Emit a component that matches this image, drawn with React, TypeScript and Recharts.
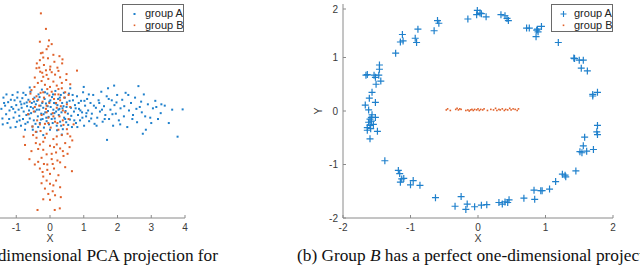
import React from 'react';
import { ScatterChart, Scatter, XAxis, YAxis } from 'recharts';

// left panel: 2-D projection, group A spread along X, group B along Y
const leftGroupA: [number, number][] = [
  [-3.4, 0.2], [-3.1, -0.15], [-2.85, 0.4], [-2.7, -0.35], [-2.5, 0.05], [-2.35, 0.55], [-2.2, -0.25],
  [-2.05, 0.3], [-1.95, -0.5], [-1.85, 0.1], [-1.75, 0.45], [-1.68, -0.2], [-1.6, 0.25], [-1.52, -0.4],
  [-1.44, 0.08], [-1.41, -0.28], [-1.38, 0.5], [-1.33, 0.2], [-1.3, -0.12], [-1.26, -0.45], [-1.24, 0.33],
  [-1.2, 0.02], [-1.17, -0.62], [-1.14, 0.15], [-1.11, 0.6], [-1.08, -0.25], [-1.05, 0.4], [-1.03, -0.05],
  [-1.0, 0.22], [-0.98, -0.4], [-0.96, 0.7], [-0.93, 0.05], [-0.91, -0.18], [-0.88, 0.35], [-0.86, -0.55],
  [-0.84, 0.12], [-0.82, 0.48], [-0.8, -0.3], [-0.78, -0.02], [-0.76, 0.28], [-0.74, -0.7], [-0.72, 0.6],
  [-0.7, -0.15], [-0.68, 0.18], [-0.66, -0.42], [-0.64, 0.42], [-0.62, 0.02], [-0.6, -0.28], [-0.58, 0.72],
  [-0.56, -0.08], [-0.54, 0.3], [-0.52, -0.58], [-0.5, 0.1], [-0.48, -0.35], [-0.46, 0.5], [-0.44, -0.02],
  [-0.42, 0.25], [-0.4, -0.78], [-0.38, 0.38], [-0.36, -0.2], [-0.34, 0.62], [-0.32, 0.05], [-0.3, -0.45],
  [-0.28, 0.2], [-0.26, -0.1], [-0.24, 0.8], [-0.22, -0.3], [-0.2, 0.12], [-0.18, -0.62], [-0.16, 0.45],
  [-0.14, -0.05], [-0.12, 0.28], [-0.1, -0.38], [-0.08, 0.65], [-0.06, 0.0], [-0.04, -0.22], [-0.02, 0.35],
  [0.0, -0.7], [0.02, 0.15], [0.04, -0.12], [0.06, 0.52], [0.08, -0.45], [0.1, 0.05], [0.12, 0.3],
  [0.14, -0.28], [0.16, 0.75], [0.18, -0.02], [0.2, -0.55], [0.22, 0.22], [0.24, 0.45], [0.26, -0.15],
  [0.28, 0.08], [0.3, -0.4], [0.32, 0.6], [0.34, -0.05], [0.36, 0.3], [0.38, -0.68], [0.4, 0.18],
  [0.42, -0.25], [0.44, 0.5], [0.46, 0.0], [0.48, -0.42], [0.5, 0.32], [0.53, -0.1], [0.56, 0.65],
  [0.59, -0.32], [0.62, 0.12], [0.65, -0.6], [0.68, 0.4], [0.71, -0.02], [0.74, 0.22], [0.77, -0.45],
  [0.8, 0.55], [0.83, -0.15], [0.86, 0.08], [0.89, -0.35], [0.92, 0.38], [0.95, -0.05], [0.98, 0.7],
  [1.01, -0.55], [1.04, 0.2], [1.07, -0.2], [1.1, 0.45], [1.13, 0.02], [1.16, -0.38], [1.2, 0.3],
  [1.24, -0.1], [1.28, 0.6], [1.32, -0.48], [1.36, 0.12], [1.4, -0.25], [1.44, 0.4], [1.48, -0.02],
  [1.52, 0.72], [1.56, -0.4], [1.6, 0.18], [1.64, -0.15], [1.68, 0.55], [1.69, -1.08], [1.72, 0.85],
  [1.75, -0.3], [1.79, 0.05], [1.83, 0.4], [1.87, -0.55], [1.91, 0.22], [1.95, -0.1], [1.99, 0.6],
  [2.04, -0.35], [2.09, 0.1], [2.14, 0.42], [2.19, -0.2], [2.24, 0.68], [2.29, -0.6], [2.34, 0.02],
  [2.4, 0.3], [2.46, -0.15], [2.52, 0.5], [2.58, -0.42], [2.62, 0.93], [2.66, 0.15], [2.72, -0.05],
  [2.78, 0.62], [2.84, -0.7], [2.9, 0.25], [2.97, -0.25], [3.05, 0.1], [3.12, 0.38], [3.2, -0.3],
  [3.28, -0.08], [3.4, 0.2], [3.52, -0.45], [3.62, 0.05], [3.78, -0.96], [3.93, 0.06],
  [-1.4, -0.5], [-1.36, 0.3], [-1.29, 0.62], [-1.21, -0.3], [-1.16, 0.42], [-1.09, 0.08], [-1.02, -0.6],
  [-0.97, 0.5], [-0.9, -0.35], [-0.85, 0.25], [-0.79, 0.68], [-0.73, -0.48], [-0.69, 0.32], [-0.63, -0.12],
  [-0.57, 0.15], [-0.51, -0.7], [-0.47, 0.35], [-0.43, -0.48], [-0.39, 0.05], [-0.35, -0.6], [-0.31, 0.52],
  [-0.27, -0.32], [-0.23, 0.3], [-0.19, -0.12], [-0.15, 0.7], [-0.11, -0.25], [-0.07, 0.18], [-0.03, -0.5],
  [0.01, 0.4], [0.05, -0.3], [0.09, 0.62], [0.13, -0.08], [0.17, 0.28], [0.21, -0.72], [0.25, 0.05],
  [0.29, 0.5], [0.33, -0.55], [0.37, 0.1], [0.41, 0.68], [0.45, -0.3], [0.49, 0.15], [0.54, -0.52],
  [0.58, 0.38], [0.63, -0.18], [0.67, 0.6], [0.72, -0.35], [0.76, 0.1], [0.81, -0.6], [0.85, 0.3],
  [0.9, 0.02], [0.96, -0.25], [1.02, 0.38], [1.08, -0.08], [1.15, 0.62], [1.22, -0.28], [1.3, 0.2],
  [1.38, -0.55], [1.46, 0.3], [1.54, 0.05], [1.62, -0.3], [1.74, 0.45], [1.85, -0.12], [1.97, 0.32],
  [2.08, -0.5], [2.2, 0.18], [2.32, 0.6], [2.44, -0.3], [2.56, 0.08], [2.7, 0.35], [2.82, -0.2],
  [3.0, -0.45], [3.15, 0.15], [3.3, 0.25], [1.0, 0.9], [0.35, -0.88], [-0.6, 0.88], [2.75, -0.85],
  [1.9, 0.95], [-0.2, -0.9], [0.6, 0.85],
];

const leftGroupB: [number, number][] = [
  [-0.27, 3.65], [-0.12, 3.07], [-0.03, 2.64], [-0.3, 2.59], [0.05, 2.5], [-0.27, 2.16], [-0.22, 2.18],
  [-0.1, 2.31], [0.37, 1.93], [0.36, 1.78], [-0.3, 1.9], [-0.39, 1.78], [-0.06, 1.97], [0.13, 1.84],
  [0.01, 1.66], [0.8, 1.51], [-0.29, 1.47], [-0.23, 1.43], [-0.12, 1.52], [0.05, 1.45], [0.15, 1.36],
  [0.49, 1.38], [0.3, 1.26], [0.48, 1.16], [-0.2, 1.28], [-0.05, 1.2], [0.1, 1.1], [-0.36, 1.05],
  [-0.15, 0.98], [0.2, 0.95], [-0.46, 0.9], [0.35, 0.85], [-0.55, 0.78], [-0.08, 0.82], [0.05, 0.72],
  [-0.28, 0.68], [0.25, 0.62], [0.45, 0.7], [-0.4, 0.55], [-0.18, 0.5], [0.12, 0.45], [0.3, 0.4],
  [-0.6, 0.35], [-0.02, 0.3], [0.5, 0.25], [-0.32, 0.2], [0.2, 0.12], [-0.12, 0.08], [0.38, 0.02],
  [-0.48, -0.02], [0.08, -0.08], [-0.25, -0.15], [0.28, -0.2], [-0.05, -0.25], [0.55, -0.3], [-0.38, -0.35],
  [0.15, -0.4], [-0.15, -0.48], [0.4, -0.52], [-0.52, -0.58], [0.02, -0.62], [0.25, -0.7], [-0.28, -0.75],
  [-0.78, -0.96], [-0.1, -0.85], [0.35, -0.9], [0.6, -0.95], [-0.4, -1.0], [0.1, -1.05], [-0.74, -1.27],
  [-0.2, -1.15], [0.45, -1.2], [0.0, -1.3], [-0.35, -1.42], [0.3, -1.4], [0.58, -1.35], [0.66, -1.1],
  [-0.55, -1.5], [0.18, -1.55], [-0.1, -1.62], [-0.61, -1.8], [0.4, -1.68], [-0.25, -1.75], [0.05, -1.8],
  [-0.18, -1.98], [-0.08, -2.0], [0.08, -1.98], [0.22, -1.85], [0.3, -1.92], [-0.3, -2.15], [-0.22, -2.28],
  [0.65, -2.25], [0.0, -2.35], [-0.1, -2.6], [0.0, -2.72], [0.1, -2.78], [-0.15, -2.9], [0.3, -2.85],
  [-0.05, -3.1], [0.15, -3.15], [0.32, -3.22], [-0.2, -3.3], [0.0, -3.32], [-0.37, -3.7], [0.14, -3.7],
  [0.29, -3.64], [-0.4, 1.6], [0.22, 1.62], [-0.18, 1.72], [0.28, 2.05], [-0.45, 1.25], [0.6, 1.0],
  [-0.02, 0.58], [0.18, 0.3], [-0.22, 0.35], [0.42, 0.5], [-0.1, -0.05], [0.22, -0.45], [-0.42, -0.78],
  [0.5, -0.68], [-0.3, -1.25], [0.12, -1.35], [0.52, -1.6], [-0.45, -2.0], [0.45, -2.1], [-0.2, -2.45],
  [-0.5, 0.45], [0.6, 0.15], [-0.65, -0.12], [0.7, -0.5], [-0.58, 0.65], [0.55, 0.6], [-0.35, 0.42],
  [0.32, 0.18], [-0.1, 0.2], [0.1, -0.2], [-0.3, -0.5], [0.45, -0.05], [-0.2, 0.7], [0.0, 0.9],
  [0.25, 0.82], [-0.45, 0.15], [0.15, 0.62], [-0.05, -0.45], [0.38, -0.35], [-0.5, -0.9], [0.2, -0.95],
  [-0.15, -1.0], [0.52, -0.85], [-0.25, 1.12], [0.35, 1.05], [-0.1, 1.35], [0.0, 1.55], [-0.32, 1.62],
  [0.25, 1.5], [-0.2, 2.0], [0.1, 2.1], [-0.05, 2.42], [0.2, -1.25], [-0.42, -1.2], [0.38, -1.5],
  [-0.2, -1.45], [0.05, -1.6], [-0.35, -1.9], [0.12, -2.15], [-0.08, -2.2], [0.25, -2.4], [0.18, -2.6],
  [-0.25, -2.7], [0.08, -3.0],
];

// right panel: group A on a ring, group B on a short line
const rightGroupA: [number, number][] = [
  [-0.01, 1.88], [0.03, 1.83], [-0.02, 1.8], [0.05, 1.82], [0.12, 1.76], [-0.15, 1.72], [0.34, 1.8],
  [0.4, 1.78], [0.43, 1.73], [0.45, 1.69], [-0.6, 1.69], [-0.58, 1.64], [-0.65, 1.5], [-0.89, 1.53],
  [-1.12, 1.43], [-1.15, 1.29], [-1.11, 1.31], [-0.93, 1.36], [-0.91, 1.28], [-1.22, 1.08], [0.72, 1.55],
  [0.76, 1.55], [0.87, 1.51], [0.89, 1.48], [0.94, 1.58], [0.88, 1.53], [0.86, 1.39], [1.19, 1.28],
  [1.42, 0.99], [1.43, 0.98], [1.5, 0.95], [1.56, 0.95], [1.53, 0.8], [1.62, 0.75], [1.7, 0.28],
  [1.7, 0.31], [1.77, 0.35], [1.77, -0.27], [1.76, -0.39], [1.77, -0.44], [1.58, -0.49], [1.56, -0.65],
  [1.51, -0.76], [1.54, -0.78], [1.61, -0.75], [1.71, -0.72], [1.45, -1.12], [1.25, -1.18], [1.29, -1.2],
  [1.3, -1.23], [1.15, -1.32], [1.06, -1.46], [0.95, -1.49], [0.93, -1.49], [0.83, -1.48], [0.84, -1.65],
  [0.68, -1.63], [0.4, -1.7], [0.46, -1.66], [0.44, -1.71], [0.31, -1.71], [0.36, -1.74], [0.13, -1.75],
  [0.05, -1.76], [-0.05, -1.79], [-0.16, -1.74], [-0.18, -1.84], [-0.25, -1.6], [-0.34, -1.78],
  [-0.63, -1.62], [-0.86, -1.39], [-1.0, -1.38], [-0.96, -1.3], [-1.18, -1.11], [-1.16, -1.17],
  [-1.15, -1.33], [-1.13, -1.27], [-1.1, -1.26], [-1.38, -0.93], [-1.49, -0.38], [-1.64, 0.68],
  [-1.66, 0.67], [-1.54, 0.67], [-1.52, 0.63], [-1.46, 0.86], [-1.46, 0.78], [-1.47, 0.67], [-1.44, 0.56],
  [-1.51, 0.5], [-1.57, 0.35], [-1.61, 0.24], [-1.52, 0.16], [-1.67, 0.11], [-1.62, 0.02], [-1.57, -0.07],
  [-1.58, -0.12], [-1.6, -0.15], [-1.58, -0.19], [-1.52, -0.12], [-1.62, -0.21], [-1.6, -0.27],
  [-1.55, -0.25], [-1.64, -0.31], [-1.64, -0.36], [-1.59, -0.33], [-1.6, -0.52],
];

const rightGroupB: [number, number][] = [
  [-0.47, 0.02], [-0.45, 0.04], [-0.41, 0.01], [-0.33, 0.03], [-0.31, 0.05], [-0.29, 0.02], [-0.27, 0.04],
  [-0.25, 0.03], [-0.18, 0.01], [-0.15, 0.02], [-0.13, 0.0], [-0.11, 0.02], [-0.09, 0.03], [-0.07, 0.01],
  [-0.05, 0.03], [-0.02, 0.02], [0.0, 0.04], [0.02, 0.01], [0.04, 0.03], [0.07, 0.02], [0.09, 0.04],
  [0.14, 0.01], [0.19, 0.03], [0.23, 0.02], [0.26, 0.05], [0.28, 0.01], [0.31, 0.03], [0.33, 0.02],
  [0.36, 0.04], [0.39, 0.01], [0.41, 0.03], [0.44, 0.02], [0.47, 0.05], [0.49, 0.02], [0.52, 0.04],
  [0.55, 0.03], [0.58, 0.01], [0.6, 0.04],
];

const leftTicks = [-1, 0, 1, 2, 3, 4];
const rightTicks = [-2, -1, 0, 1, 2];

const BLUE = '#1f80cc';
const ORANGE = '#e0612a';
const AXIS = '#8a8a8a';
const TICK_TEXT = '#3a3a3a';
const SANS = '"Liberation Sans", Arial, sans-serif';

const toPoints = (arr: [number, number][]) => arr.map(([x, y]) => ({ x, y }));

const XTick = (props: any) => {
  const { x, y, payload } = props;
  return (
    <g>
      <line x1={x} y1={y} x2={x} y2={y - 3} stroke={AXIS} />
      <text x={x} y={y + 13} textAnchor="middle" fontSize={10} fontFamily={SANS} fill={TICK_TEXT}>
        {payload.value}
      </text>
    </g>
  );
};

const YTick = (props: any) => {
  const { x, y, payload } = props;
  return (
    <g>
      <line x1={x} y1={y} x2={x + 3} y2={y} stroke={AXIS} />
      <text x={x - 5} y={y + 3.5} textAnchor="end" fontSize={10} fontFamily={SANS} fill={TICK_TEXT}>
        {payload.value}
      </text>
    </g>
  );
};

const PlusMark = (props: any) => {
  const { cx, cy } = props;
  return <path d={`M${cx - 3.5},${cy}h7M${cx},${cy - 3.5}v7`} stroke={BLUE} strokeWidth={1.2} fill="none" />;
};

const dotMark = (color: string, size: number) => (props: any) => {
  const { cx, cy } = props;
  return <rect x={cx - size / 2} y={cy - size / 2} width={size} height={size} fill={color} />;
};

function LegendBox({ left, plus }: { left: number; plus: boolean }) {
  return (
    <div
      style={{
        position: 'absolute', left, top: 4, width: 62, height: 28, border: '1px solid #6a6a6a',
        background: '#fff', fontFamily: SANS, fontSize: 11, color: '#222', boxSizing: 'border-box',
      }}
    >
      <svg width={20} height={26} style={{ position: 'absolute', left: 4, top: 0 }}>
        {plus ? (
          <path d="M4.5,9h6M7.5,6v6" stroke={BLUE} strokeWidth={1.1} />
        ) : (
          <rect x={6.5} y={8} width={2} height={2} fill={BLUE} />
        )}
        <rect x={6.7} y={19.5} width={1.6} height={1.6} fill={ORANGE} />
      </svg>
      <div style={{ position: 'absolute', left: 22, top: 2, lineHeight: '12px', whiteSpace: 'nowrap' }}>group A</div>
      <div style={{ position: 'absolute', left: 22, top: 14, lineHeight: '12px', whiteSpace: 'nowrap' }}>group B</div>
    </div>
  );
}

const captionStyle: React.CSSProperties = {
  position: 'absolute', top: 247, whiteSpace: 'nowrap', fontFamily: '"Liberation Serif", "Times New Roman", serif',
  fontSize: 17.3, lineHeight: '1', color: '#111',
};

export default function App() {
  return (
    <div style={{ position: 'absolute', left: 0, top: 0, width: 640, height: 265, overflow: 'hidden', background: '#fff' }}>
      {/* left panel, cut off at the page edge */}
      <div style={{ position: 'absolute', left: -85, top: 0 }}>
        <ScatterChart width={300} height={265} margin={{ top: 4, right: 30, bottom: 0, left: 0 }}>
          <XAxis
            type="number" dataKey="x" domain={[-4, 4]} ticks={leftTicks} height={47}
            axisLine={{ stroke: AXIS }} tickLine={false} tickSize={0} tickMargin={0} tick={XTick}
            label={{ value: 'X', position: 'insideBottom', offset: 23, fontSize: 10.5, fontFamily: SANS, fill: TICK_TEXT }}
          />
          <YAxis type="number" dataKey="y" domain={[-4, 4]} hide />
          <Scatter data={toPoints(leftGroupA)} shape={dotMark(BLUE, 2)} isAnimationActive={false} />
          <Scatter data={toPoints(leftGroupB)} shape={dotMark(ORANGE, 2)} isAnimationActive={false} />
        </ScatterChart>
      </div>
      <LegendBox left={122} plus={false} />
      <div style={{ ...captionStyle, right: 422 }}>(a) Group <i>B</i> has no clear one-dimensional PCA projection for</div>

      {/* right panel */}
      <div style={{ position: 'absolute', left: 290, top: 0 }}>
        <ScatterChart width={350} height={265} margin={{ top: 4, right: 27, bottom: 0, left: 0 }}>
          <XAxis
            type="number" dataKey="x" domain={[-2, 2]} ticks={rightTicks} height={47}
            axisLine={{ stroke: AXIS }} tickLine={false} tickSize={0} tickMargin={0} tick={XTick}
            label={{ value: 'X', position: 'insideBottom', offset: 23, fontSize: 10.5, fontFamily: SANS, fill: TICK_TEXT }}
          />
          <YAxis
            type="number" dataKey="y" domain={[-2, 2]} ticks={rightTicks} width={53}
            axisLine={{ stroke: AXIS }} tickLine={false} tickSize={0} tickMargin={0} tick={YTick}
            label={{
              content: () => (
                <text x={32} y={111} transform="rotate(-90 32 111)" textAnchor="middle" fontSize={10.5} fontFamily={SANS} fill={TICK_TEXT}>
                  Y
                </text>
              ),
            }}
          />
          <Scatter data={toPoints(rightGroupA)} shape={PlusMark} isAnimationActive={false} />
          <Scatter data={toPoints(rightGroupB)} shape={dotMark(ORANGE, 1.6)} isAnimationActive={false} />
        </ScatterChart>
      </div>
      <LegendBox left={551} plus={true} />
      <div style={{ ...captionStyle, left: 297 }}>(b) Group <i>B</i> has a perfect one-dimensional projection</div>
    </div>
  );
}
